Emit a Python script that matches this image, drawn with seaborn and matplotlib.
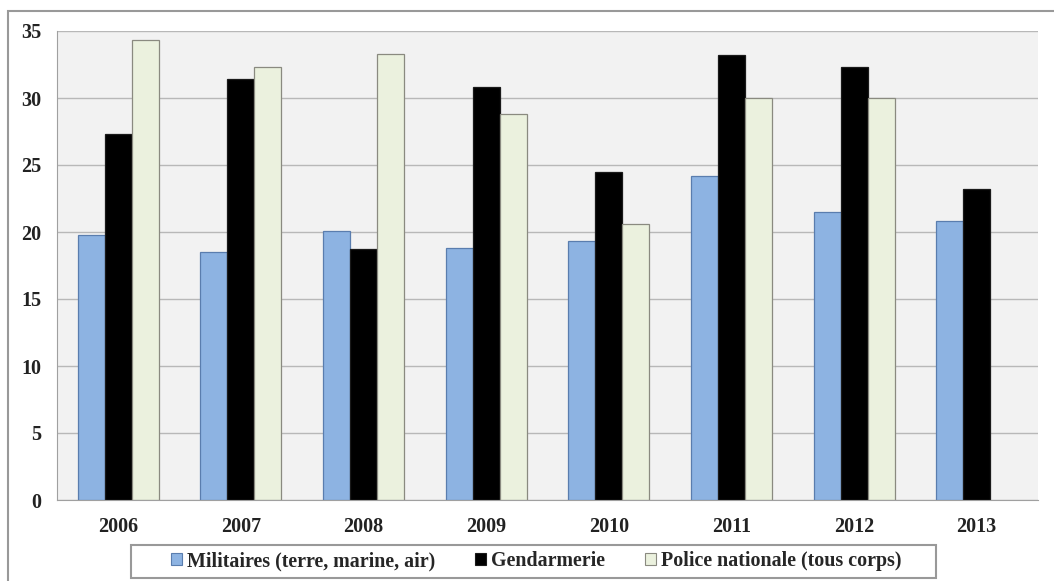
import pandas as pd
import numpy as np
import matplotlib.pyplot as plt
import seaborn as sns
from matplotlib.patches import Rectangle

years = ['2006', '2007', '2008', '2009', '2010', '2011', '2012', '2013']
militaires = [19.8, 18.5, 20.1, 18.8, 19.3, 24.2, 21.5, 20.8]
gendarmerie = [27.3, 31.4, 18.7, 30.8, 24.5, 33.2, 32.3, 23.2]
police = [34.3, 32.3, 33.3, 28.8, 20.6, 30.0, 30.0, np.nan]
series = ['Militaires (terre, marine, air)', 'Gendarmerie', 'Police nationale (tous corps)']
colors = ['#8DB3E2', '#000000', '#EBF1DE']
edges = ['#5A7DAE', '#1a1a1a', '#8a8a80']

df = pd.DataFrame({'year': years * 3,
                   'value': militaires + gendarmerie + police,
                   'corps': [series[0]] * 8 + [series[1]] * 8 + [series[2]] * 8})

sns.set_style('white')
plt.rcParams['font.family'] = ['Liberation Serif', 'DejaVu Serif']
plt.rcParams['font.weight'] = 'bold'

fig = plt.figure(figsize=(10.54, 5.81), dpi=100)
ax = fig.add_axes([57 / 1054, 1 - 500 / 581, (1038 - 57) / 1054, (500 - 31) / 581])

sns.barplot(data=df, x='year', y='value', hue='corps', palette=colors, saturation=1,
            width=0.66, linewidth=0.9, ax=ax, legend=False)
for cont, ec in zip(ax.containers, edges):
    for bar in cont:
        bar.set_edgecolor(ec)

ax.set_facecolor('#F2F2F2')
ax.set_ylim(0, 35)
ax.set_xlim(-0.5, 7.5)
ax.set_yticks(range(0, 36, 5))
ax.yaxis.grid(True, color='#b8b8b8', linewidth=1.0)
ax.set_axisbelow(True)
ax.set_xlabel('')
ax.set_ylabel('')
for s in ['top', 'right']:
    ax.spines[s].set_visible(False)
for s in ['left', 'bottom']:
    ax.spines[s].set_color('#a0a0a0')
ax.set_xticks(np.arange(-0.5, 8.0, 1.0), minor=True)
ax.tick_params(axis='x', which='major', length=0, labelsize=14.5, pad=12)
ax.tick_params(axis='x', which='minor', length=5, color='#a0a0a0', direction='out')
ax.tick_params(axis='y', length=5, color='#a0a0a0', labelsize=14.5, pad=6)
for lab in ax.get_xticklabels() + ax.get_yticklabels():
    lab.set_fontweight('bold')
    lab.set_color('#222222')

handles = [Rectangle((0, 0), 1, 1, facecolor=c, edgecolor=e, linewidth=0.8) for c, e in zip(colors, edges)]
leg = fig.legend(handles, series, ncol=3, loc='center',
                 bbox_to_anchor=(536 / 1054, 1 - 561 / 581), frameon=False,
                 prop={'weight': 'bold', 'size': 14.4}, handlelength=0.55, handleheight=0.55,
                 handletextpad=0.25, columnspacing=2.0, borderpad=0.2)

fig.patches.append(Rectangle((131 / 1054, 1 - 578 / 581), (936 - 131) / 1054, 33 / 581,
                             transform=fig.transFigure, fill=False, edgecolor='#999999', linewidth=1.5))
fig.patches.append(Rectangle((8 / 1054, -0.05), 1.2, 1 - 11 / 581 + 0.05, transform=fig.transFigure,
                             fill=False, edgecolor='#999999', linewidth=1.5))

fig.savefig('out.png', dpi=100)
